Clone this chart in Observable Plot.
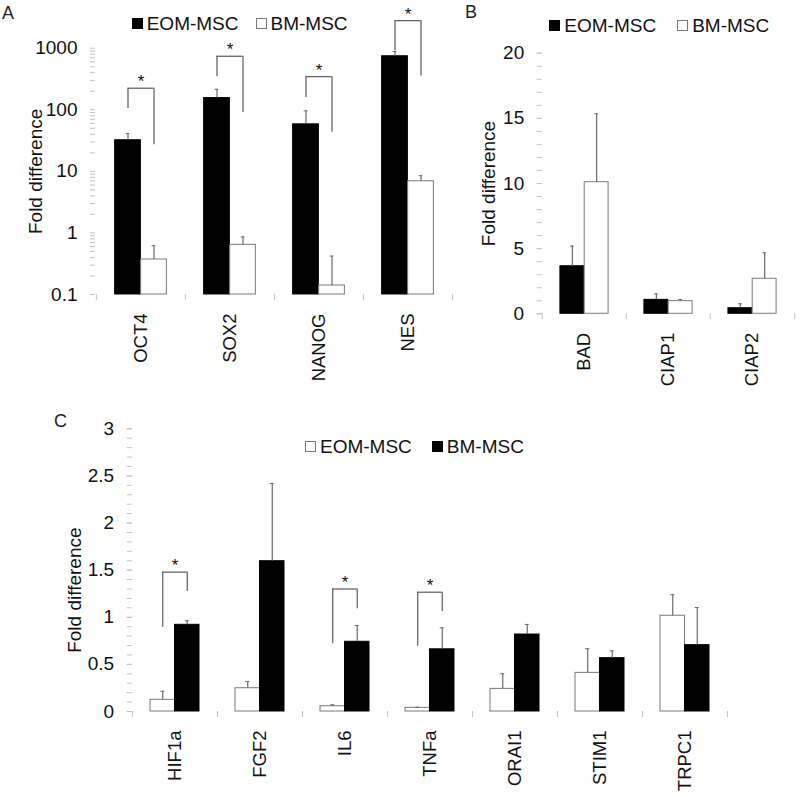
<!DOCTYPE html>
<html><head><meta charset="utf-8">
<script src="https://cdn.jsdelivr.net/npm/d3@7"></script>
<script src="https://cdn.jsdelivr.net/npm/@observablehq/plot@0.6"></script>
<style>
body{margin:0;background:#fff;font-family:"Liberation Sans",Arial,sans-serif;}
#root{position:relative;width:800px;height:797px;overflow:hidden;background:#fff;}
.box{position:absolute;}
.lab{position:absolute;font-size:18px;line-height:1;color:#222;}
.legend{position:absolute;display:flex;align-items:center;font-size:19px;line-height:1;color:#111;white-space:nowrap;}
.sw{display:inline-block;width:11px;height:11px;box-sizing:border-box;margin-right:4px;}
.sw.k{background:#000;}
.sw.w{background:#fff;border:1px solid #777;}
</style></head>
<body><div id="root"></div>
<script>
// ---------- Panel A (log scale) ----------
const catsA = ["OCT4", "SOX2", "NANOG", "NES"];
const eomA = [32, 155, 58, 740];
const eomSdA = [9, 60, 38, 140];
const bmA = [0.37, 0.64, 0.14, 6.9];
const bmSdA = [0.25, 0.22, 0.28, 1.6];
const ticksA = [0.1, 1, 10, 100, 1000];
// significance brackets: [left end, top, right end]
const brCatsA = ["OCT4", "SOX2", "NANOG", "NES"];
const brLeftA = [105, 345, 158, 900];
const brTopA = [224, 740, 345, 2800];
const brRightA = [27, 90, 43, 355];

// ---------- Panel B ----------
const catsB = ["BAD", "CIAP1", "CIAP2"];
const eomB = [3.65, 1.07, 0.43];
const eomSdB = [1.55, 0.46, 0.34];
const bmB = [10.1, 0.97, 2.69];
const bmSdB = [5.25, 0.13, 1.99];
const ticksB = [0, 5, 10, 15, 20];

// ---------- Panel C ----------
const catsC = ["HIF1a", "FGF2", "IL6", "TNFa", "ORAI1", "STIM1", "TRPC1"];
const eomC = [0.124, 0.247, 0.056, 0.039, 0.24, 0.41, 1.016];
const eomSdC = [0.091, 0.071, 0.015, 0.006, 0.16, 0.256, 0.223];
const bmC = [0.92, 1.595, 0.74, 0.66, 0.817, 0.566, 0.704];
const bmSdC = [0.043, 0.825, 0.173, 0.228, 0.107, 0.078, 0.40];
const ticksC = [0, 0.5, 1, 1.5, 2, 2.5, 3];
const brCatsC = ["HIF1a", "IL6", "TNFa"];
const brLeftC = [0.895, 0.72, 0.693];
const brTopC = [1.479, 1.30, 1.266];
const brRightC = [1.274, 1.09, 1.06];

const AXIS = "#c4c4c4", ERR = "#6a6a6a", BR = "#5a5a5a", WSTROKE = "#7a7a7a";
const FONT = "'Liberation Sans', Arial, sans-serif";

function panel(o) {
  const n = o.cats.length;
  const bw = (o.width - o.mL - o.mR) / n;
  const h = bw / 2, b = o.barW;
  const rows = o.cats.map((c, i) => ({cat: c, a: o.a[i], aSd: o.aSd[i], b: o.b[i], bSd: o.bSd[i]}));
  const brs = o.brCats.map((c, i) => ({cat: c, l: o.brL[i], t: o.brT[i], r: o.brR[i]}));
  const base = o.yDomain[0];
  const fillOf = k => k === "k" ? "#000" : "#fff";
  const strokeOf = k => k === "k" ? "#000" : WSTROKE;
  const marks = [
    Plot.axisY({ticks: o.minor, tickSize: 5, text: null, stroke: AXIS, label: null}),
    Plot.axisY({ticks: o.major, tickSize: 5, tickPadding: o.tickPad, tickFormat: d3.format("~g"),
      fontSize: 19, fill: "#111", stroke: AXIS, line: true, label: null}),
    Plot.axisX({ticks: o.cats, tickSize: 0, tickPadding: 19, tickRotate: -90, fontSize: 18.5,
      fill: "#111", stroke: AXIS, line: true, label: null}),
    Plot.axisX({ticks: o.cats, tickSize: 6, text: null, dx: -h, stroke: AXIS, label: null}),
    Plot.axisX({ticks: [o.cats[n - 1]], tickSize: 6, text: null, dx: h, stroke: AXIS, label: null}),
    Plot.barY(rows, {x: "cat", y1: base, y2: "a", fill: fillOf(o.aKind), stroke: strokeOf(o.aKind), strokeWidth: 1,
      insetLeft: h - b, insetRight: h}),
    Plot.barY(rows, {x: "cat", y1: base, y2: "b", fill: fillOf(o.bKind), stroke: strokeOf(o.bKind), strokeWidth: 1,
      insetLeft: h, insetRight: h - b}),
    Plot.ruleX(rows, {x: "cat", y1: "a", y2: d => d.a + d.aSd, dx: -b / 2, stroke: ERR, strokeWidth: 1.2}),
    Plot.ruleX(rows, {x: "cat", y1: "b", y2: d => d.b + d.bSd, dx: b / 2, stroke: ERR, strokeWidth: 1.2}),
    Plot.tickY(rows, {x: "cat", y: d => d.a + d.aSd, insetLeft: h - b / 2 - 2, insetRight: h + b / 2 - 2, stroke: ERR}),
    Plot.tickY(rows, {x: "cat", y: d => d.b + d.bSd, insetLeft: h + b / 2 - 2, insetRight: h - b / 2 - 2, stroke: ERR}),
    Plot.ruleX(brs, {x: "cat", y1: "l", y2: "t", dx: -b / 2, stroke: BR, strokeWidth: 1.2}),
    Plot.ruleX(brs, {x: "cat", y1: "r", y2: "t", dx: b / 2, stroke: BR, strokeWidth: 1.2}),
    Plot.tickY(brs, {x: "cat", y: "t", insetLeft: h - b / 2, insetRight: h - b / 2, stroke: BR, strokeWidth: 1.2}),
    Plot.text(brs, {x: "cat", y: "t", text: () => "*", fontSize: 17, dy: -1, lineAnchor: "bottom", fill: "#111"}),
    Plot.text(["Fold difference"], {frameAnchor: "left", rotate: -90, dx: o.titleDx, dy: o.titleDy || 0,
      fontSize: 19, fill: "#111", textAnchor: "middle", lineAnchor: "middle"})
  ];
  const svg = Plot.plot({
    width: o.width, height: o.height,
    marginLeft: o.mL, marginRight: o.mR, marginTop: o.mT, marginBottom: o.mB,
    x: {type: "band", domain: o.cats, padding: 0, axis: null, label: null},
    y: {type: o.yType, domain: o.yDomain, axis: null, label: null},
    style: {fontFamily: FONT, background: "transparent", overflow: "visible"},
    marks
  });
  const div = document.createElement("div");
  div.className = "box";
  div.style.left = o.left + "px";
  div.style.top = o.top + "px";
  div.style.width = o.width + "px";
  div.style.height = o.height + "px";
  div.appendChild(svg);
  return div;
}

function minorLog(lo, hi) {
  const out = [];
  for (let e = Math.log10(lo); e < Math.log10(hi); e++) for (let k = 2; k <= 9; k++) out.push(k * Math.pow(10, e));
  return out;
}

const root = document.getElementById("root");

root.appendChild(panel({
  left: 0, top: 0, width: 455, height: 390, mL: 95, mR: 3, mT: 47.7, mB: 96,
  cats: catsA, a: eomA, aSd: eomSdA, b: bmA, bSd: bmSdA, aKind: "k", bKind: "w",
  yType: "log", yDomain: [0.1, 1000], major: ticksA, minor: minorLog(0.1, 1000), tickPad: 13,
  brCats: brCatsA, brL: brLeftA, brT: brTopA, brR: brRightA, barW: 26, titleDx: -60
}));

root.appendChild(panel({
  left: 440, top: 0, width: 360, height: 390, mL: 101.7, mR: 5, mT: 52.7, mB: 76.7,
  cats: catsB, a: eomB, aSd: eomSdB, b: bmB, bSd: bmSdB, aKind: "k", bKind: "w",
  yType: "linear", yDomain: [0, 20], major: ticksB, minor: d3.range(0, 21, 1), tickPad: 13,
  brCats: [], brL: [], brT: [], brR: [], barW: 24.3, titleDx: -53.7
}));

root.appendChild(panel({
  left: 0, top: 400, width: 800, height: 397, mL: 131.7, mR: 73.3, mT: 28.3, mB: 86,
  cats: catsC, a: eomC, aSd: eomSdC, b: bmC, bSd: bmSdC, aKind: "w", bKind: "k",
  yType: "linear", yDomain: [0, 3], major: ticksC, minor: d3.range(0, 31).map(i => i / 10), tickPad: 13,
  brCats: brCatsC, brL: brLeftC, brT: brTopC, brR: brRightC, barW: 24.5, titleDx: -57, titleDy: 20
}));

function label(t, x, y) {
  const d = document.createElement("div");
  d.className = "lab"; d.textContent = t;
  d.style.left = x + "px"; d.style.top = y + "px";
  root.appendChild(d);
}
label("A", 2, 4);
label("B", 465, 3);
label("C", 54, 412);

function legend(items, x, cy, gap) {
  const d = document.createElement("div");
  d.className = "legend";
  d.style.left = x + "px"; d.style.top = (cy - 9.5) + "px";
  items.forEach(([kind, text], i) => {
    const s = document.createElement("span");
    s.className = "sw " + kind;
    if (i > 0) s.style.marginLeft = gap + "px";
    const t = document.createElement("span");
    t.textContent = text;
    d.appendChild(s); d.appendChild(t);
  });
  root.appendChild(d);
}
legend([["k", "EOM-MSC"], ["w", "BM-MSC"]], 131.7, 23.8, 17);
legend([["k", "EOM-MSC"], ["w", "BM-MSC"]], 549.3, 25, 21);
legend([["w", "EOM-MSC"], ["k", "BM-MSC"]], 305, 446.7, 20);
</script>
</body></html>
